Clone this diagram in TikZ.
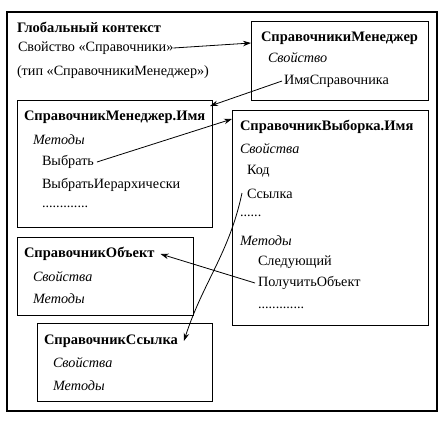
\documentclass[tikz,border=0pt]{standalone}
\usepackage{fontspec}
\setmainfont{Liberation Serif}
\usetikzlibrary{arrows.meta}
\begin{document}
\begin{tikzpicture}[x=1pt,y=-1pt,
  every node/.style={inner sep=0pt,outer sep=0pt,font=\fontsize{14.2}{16}\selectfont},
  t/.style={anchor=west},
  tb/.style={anchor=west,font=\fontsize{14.5}{16}\selectfont\bfseries},
  ti/.style={anchor=west,font=\fontsize{14.2}{16}\selectfont\itshape},
  box/.style={draw,line width=0.9pt,fill=none},
  arr/.style={line width=0.8pt,-{Stealth[length=8pt,width=5.5pt]}}]
\useasboundingbox (0,0) rectangle (442,421);
% outer frame
\node[box,line width=1.1pt,minimum width=430pt,minimum height=399pt] (frame) at (222,211.5) {};
% boxes
\node[box,minimum width=177pt,minimum height=79pt] (mgr) at (339.5,60.5) {};
\node[box,minimum width=195pt,minimum height=127pt] (mname) at (114.5,163.5) {};
\node[box,minimum width=196pt,minimum height=215pt] (vyb) at (330,217.5) {};
\node[box,minimum width=176pt,minimum height=78pt] (obj) at (105,276) {};
\node[box,minimum width=175pt,minimum height=78pt] (ref) at (124.5,362) {};
% global context
\node[tb] (glob) at (17,27) {Глобальный контекст};
\node[t] (gprop) at (18,48) {Свойство «Справочники»};
\node[t] (gtype) at (17,72) {(тип «СправочникиМенеджер»)};
% managers
\node[tb] (mgrT) at (261,38) {СправочникиМенеджер};
\node[ti] (mgrP) at (268,58) {Свойство};
\node[t] (mgrN) at (284,81) {ИмяСправочника};
% manager.name
\node[tb] (mnT) at (24,117) {СправочникМенеджер.Имя};
\node[ti] (mnM) at (33,140) {Методы};
\node[t] (mnV) at (42,162) {Выбрать};
\node[t] (mnI) at (42,185) {ВыбратьИерархически};
\node[t] (mnD) at (42,207) {.............};
% selection
\node[tb] (vT) at (240,127) {СправочникВыборка.Имя};
\node[ti] (vP) at (240,149) {Свойства};
\node[t] (vK) at (247,171) {Код};
\node[t] (vS) at (247,194) {Ссылка};
\node[t] (vD1) at (240,216) {......};
\node[ti] (vM) at (240,241) {Методы};
\node[t] (vN) at (258,262) {Следующий};
\node[t] (vG) at (258,283) {ПолучитьОбъект};
\node[t] (vD2) at (258,308) {.............};
% object
\node[tb] (oT) at (24,254) {СправочникОбъект};
\node[ti] (oP) at (33,277) {Свойства};
\node[ti] (oM) at (33,299) {Методы};
% reference
\node[tb] (rT) at (44,341) {СправочникСсылка};
\node[ti] (rP) at (53,363) {Свойства};
\node[ti] (rM) at (53,386) {Методы};
% connectors
\draw[arr] (gprop.east) -- ([yshift=-22pt]mgr.north west);
\draw[arr] ([xshift=-2pt]mgrN.west) -- ([xshift=-2pt,yshift=-6pt]mname.north east);
\draw[arr] ([xshift=3pt]mnV.east) -- ([yshift=-9pt]vyb.north west);
\draw[arr] ([xshift=-5pt,yshift=1pt]vS.west) to[out=258,in=72] ([xshift=6pt]rT.east);
\draw[arr] ([xshift=-3pt]vG.west) -- ([xshift=6pt]oT.east);
\end{tikzpicture}
\end{document}
